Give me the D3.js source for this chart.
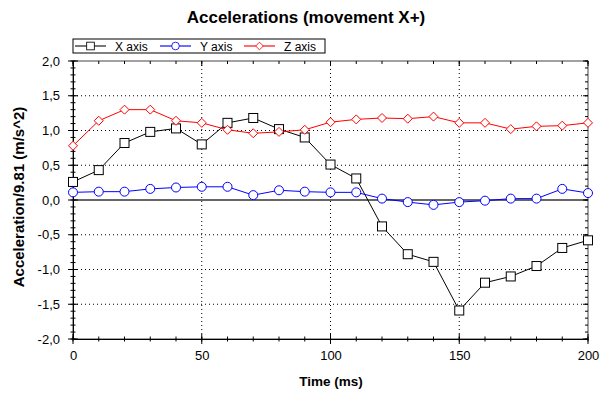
<!DOCTYPE html>
<html lang="en">
<head>
	<meta charset="UTF-8">
	<title>Accelerations (movement X+)</title>
	<script src="https://cdn.jsdelivr.net/npm/d3@7/dist/d3.min.js"></script>
	<style>
		body { margin:0; background:#fff; }
		svg { width:600px; height:397px; font-family:"Liberation Sans", Arial, sans-serif; }
	</style>
</head>
<body>
	<svg></svg>
	<script>
	// data
	var time = [0,10,20,30,40,50,60,70,80,90,100,110,120,130,140,150,160,170,180,190,200];
	var xAxisVals = [0.26,0.43,0.82,0.98,1.03,0.80,1.11,1.18,1.02,0.90,0.51,0.31,-0.38,-0.78,-0.89,-1.59,-1.19,-1.10,-0.95,-0.69,-0.58];
	var yAxisVals = [0.11,0.12,0.12,0.16,0.18,0.19,0.19,0.07,0.14,0.12,0.11,0.11,0.02,-0.03,-0.07,-0.03,-0.01,0.02,0.02,0.16,0.10];
	var zAxisVals = [0.78,1.14,1.30,1.30,1.14,1.11,1.01,0.96,0.98,1.01,1.12,1.16,1.18,1.17,1.20,1.11,1.11,1.02,1.06,1.07,1.11];
	var seriesNames = ["X axis","Y axis","Z axis"];
	var xTicks = [0,50,100,150,200];
	var yTicks = [-2,-1.5,-1,-0.5,0,0.5,1,1.5,2];

	var svg = d3.select("svg");
	var locat = {top:61,left:73,right:588,bottom:339};

	var xScale = d3.scaleLinear().domain([0,200]).range([locat.left,locat.right]);
	var yScale = d3.scaleLinear().domain([-2,2]).range([locat.bottom,locat.top]);
	var fmt = function(d) { return d3.format(".1f")(d).replace(".",",").replace("−","-"); };

	// grid
	svg.append("g").selectAll("line").data(xTicks.slice(1,-1)).enter().append("line")
		.attr("x1",d=>xScale(d)).attr("x2",d=>xScale(d))
		.attr("y1",locat.top).attr("y2",locat.bottom)
		.attr("stroke","#000").attr("stroke-dasharray","1,3");
	svg.append("g").selectAll("line").data(yTicks.filter(d=>d!=0 && Math.abs(d)!=2)).enter().append("line")
		.attr("x1",locat.left).attr("x2",locat.right)
		.attr("y1",d=>yScale(d)).attr("y2",d=>yScale(d))
		.attr("stroke","#000").attr("stroke-dasharray","1,3");
	// zero line
	svg.append("line")
		.attr("x1",locat.left).attr("x2",locat.right)
		.attr("y1",yScale(0)).attr("y2",yScale(0))
		.attr("stroke","#333").attr("stroke-width",1.5);

	// frame top/right
	svg.append("rect").attr("x",locat.left).attr("y",locat.top)
		.attr("width",locat.right-locat.left).attr("height",locat.bottom-locat.top)
		.attr("fill","none").attr("stroke","#444");

	// minor ticks
	var xMinor = d3.range(0,201,10);
	var yMinor = d3.range(-20,21).map(d=>d/10);

	var axisLayer = svg.append("g").attr("stroke","#000");
	function tickSet(vals, isX, pos, a, b) {
		axisLayer.append("g").selectAll("line").data(vals).enter().append("line")
			.attr("x1", d => isX ? xScale(d) : pos + a)
			.attr("x2", d => isX ? xScale(d) : pos + b)
			.attr("y1", d => isX ? pos + a : yScale(d))
			.attr("y2", d => isX ? pos + b : yScale(d));
	}
	// left & bottom: crossing, top & right: inward
	tickSet(yMinor, false, locat.left, -2.5, 2.5);
	tickSet(yTicks, false, locat.left, -5, 5);
	tickSet(xMinor, true, locat.bottom, -2.5, 2.5);
	tickSet(xTicks, true, locat.bottom, -5, 5);
	tickSet(yMinor, false, locat.right, -3, 0);
	tickSet(yTicks, false, locat.right, -5, 0);
	tickSet(xMinor, true, locat.top, 0, 3);
	tickSet(xTicks, true, locat.top, 0, 5);

	// axes labels via d3 axes
	var xAxis = d3.axisBottom(xScale).tickValues(xTicks).tickSize(0).tickPadding(12);
	var gx = svg.append("g").attr("transform","translate(0,"+locat.bottom+")").call(xAxis);
	gx.select(".domain").attr("stroke","#000");
	gx.selectAll("text").attr("font-size",13).attr("font-family","Liberation Sans, Arial").attr("fill","#000");

	var yAxis = d3.axisLeft(yScale).tickValues(yTicks).tickSize(0).tickPadding(13).tickFormat(fmt);
	var gy = svg.append("g").attr("transform","translate("+locat.left+",0)").call(yAxis);
	gy.select(".domain").attr("stroke","#000");
	gy.selectAll("text").attr("font-size",13).attr("font-family","Liberation Sans, Arial").attr("fill","#000");

	// titles
	svg.append("text").attr("x",306).attr("y",23).attr("text-anchor","middle")
		.attr("font-size",17).attr("font-weight","bold").text("Accelerations (movement X+)");
	svg.append("text").attr("x",331).attr("y",386).attr("text-anchor","middle")
		.attr("font-size",13.5).attr("font-weight","bold").text("Time (ms)");
	svg.append("text").attr("transform","translate(24,197) rotate(-90)").attr("text-anchor","middle")
		.attr("font-size",15).attr("font-weight","bold").text("Acceleration/9.81 (m/s^2)");

	// series
	var colors = ["#000000","#0000ff","#ff0000"];
	var allVals = [xAxisVals,yAxisVals,zAxisVals];
	var line = d3.line().x((d,i)=>xScale(time[i])).y(d=>yScale(d));

	function marker(g, kind, color) {
		if (kind == 0) {
			g.append("rect").attr("x",-4.5).attr("y",-4.5).attr("width",9).attr("height",9)
				.attr("fill","#fff").attr("stroke",color);
		} else if (kind == 1) {
			g.append("circle").attr("r",4.5).attr("fill","#fff").attr("stroke",color);
		} else {
			g.append("path").attr("d","M0,-4.5L4.5,0L0,4.5L-4.5,0Z").attr("fill","#fff").attr("stroke",color);
		}
	}

	allVals.forEach(function(vals,k) {
		svg.append("path").datum(vals).attr("d",line)
			.attr("fill","none").attr("stroke",colors[k]).attr("stroke-width",1);
	});
	allVals.forEach(function(vals,k) {
		svg.append("g").selectAll("g").data(vals).enter().append("g")
			.attr("transform",(d,i)=>"translate("+xScale(time[i])+","+yScale(d)+")")
			.each(function() { marker(d3.select(this),k,colors[k]); });
	});

	// legend
	var lg = svg.append("g");
	lg.append("rect").attr("x",73).attr("y",39).attr("width",252).attr("height",14)
		.attr("fill","#fff").attr("stroke","#000");
	var legX = [75,160,244];
	seriesNames.forEach(function(name,k) {
		var x0 = legX[k];
		lg.append("line").attr("x1",x0).attr("x2",x0+31).attr("y1",46).attr("y2",46)
			.attr("stroke",colors[k]).attr("stroke-width",1.5).attr("opacity",k==0?0.7:0.75);
		var m = lg.append("g").attr("transform","translate("+(x0+15.5)+",46)");
		marker(m,k,colors[k]);
		m.selectAll("*").attr("transform","scale(0.85)");
		lg.append("text").attr("x",x0+40).attr("y",50.5).attr("font-size",12).text(name);
	});
	</script>
</body>
</html>
